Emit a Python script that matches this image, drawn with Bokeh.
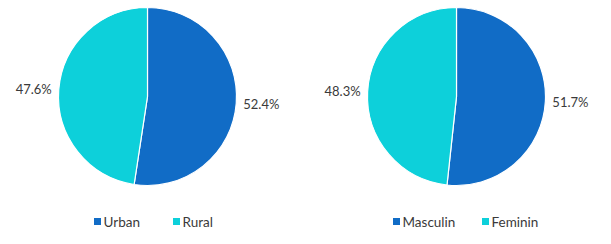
import math
from bokeh.plotting import figure
from bokeh.models import Range1d
from bokeh.core.properties import value
from bokeh.embed import file_html
from bokeh.resources import INLINE

# Data
area_labels = ["Urban", "Rural"]
area_values = [52.4, 47.6]
sex_labels = ["Masculin", "Feminin"]
sex_values = [51.7, 48.3]
colors = ["#116CC6", "#0DD0DA"]

W, H = 611, 244
p = figure(width=W, height=H, output_backend="svg", toolbar_location=None,
           x_range=Range1d(0, W), y_range=Range1d(0, H), min_border=0)
p.axis.visible = False
p.grid.visible = False
p.outline_line_color = None
p.background_fill_color = "white"
p.border_fill_color = "white"

FONT = "Lato"
TEXT_COLOR = "#3a3a3a"
R = 89
CY = H - 96


def draw_pie(cx, labels, vals, legend_x):
    total = sum(vals)
    start = 90.0
    for i, (lab, v) in enumerate(zip(labels, vals)):
        sweep = v / total * 360.0
        end = start - sweep  # clockwise
        p.wedge(x=[cx], y=[CY], radius=R, start_angle=[math.radians(end)],
                end_angle=[math.radians(start)], fill_color=colors[i],
                line_color="white", line_width=1.2)
        mid = math.radians((start + end) / 2)
        lx = cx + (R + 7) * math.cos(mid)
        ly = CY + (R + 7) * math.sin(mid)
        align = "left" if math.cos(mid) > 0 else "right"
        p.text(x=[lx], y=[ly], text=[f"{v:.1f}%"], text_align=align,
               text_baseline="middle", text_font=value(FONT),
               text_font_size="13px", text_color=TEXT_COLOR)
        start = end
    # legend
    lx = legend_x
    for i, lab in enumerate(labels):
        p.rect(x=[lx[i]], y=[H - 221], width=7, height=7,
               fill_color=colors[i], line_color=None)
        p.text(x=[lx[i] + 6], y=[H - 221], text=[lab], text_align="left",
               text_baseline="middle", text_font=value(FONT),
               text_font_size="13.5px", text_color=TEXT_COLOR)


draw_pie(147, area_labels, area_values, [97, 176])
draw_pie(456, sex_labels, sex_values, [396, 485])

open("out.html", "w").write(file_html(p, INLINE))
